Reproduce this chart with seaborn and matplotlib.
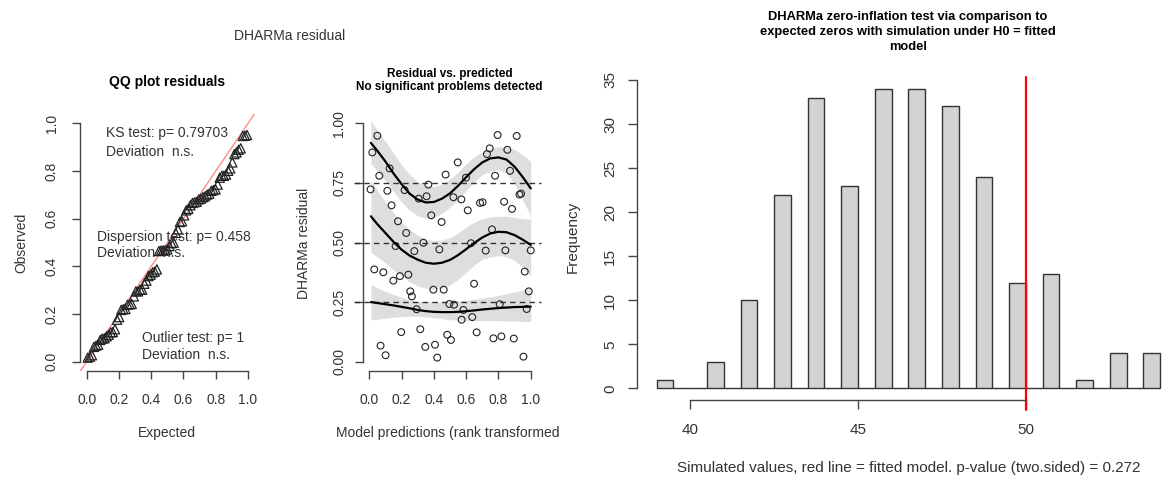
import numpy as np
import pandas as pd
import matplotlib
matplotlib.use("Agg")
import matplotlib.pyplot as plt
import seaborn as sns

sns.set_style("ticks")
plt.rcParams["font.family"] = ["Liberation Sans", "DejaVu Sans"]

W, H = 1168, 479

# scaled residuals vs rank transformed predictions
pred_rank = [0.008, 0.019, 0.050, 0.062, 0.031, 0.087, 0.070, 0.101, 0.112, 0.126,
             0.138, 0.149, 0.163, 0.178, 0.190, 0.198, 0.219, 0.229, 0.242, 0.254,
             0.264, 0.279, 0.293, 0.306, 0.316, 0.335, 0.347, 0.355, 0.366, 0.384,
             0.397, 0.407, 0.421, 0.434, 0.448, 0.461, 0.473, 0.483, 0.496, 0.506,
             0.521, 0.525, 0.548, 0.572, 0.570, 0.583, 0.599, 0.610, 0.630, 0.638,
             0.649, 0.665, 0.686, 0.702, 0.721, 0.729, 0.746, 0.760, 0.769, 0.779,
             0.795, 0.808, 0.818, 0.835, 0.843, 0.855, 0.872, 0.884, 0.895, 0.913,
             0.930, 0.940, 0.955, 0.963, 0.975, 0.988, 1.000]
resid = [0.723, 0.878, 0.948, 0.780, 0.387, 0.375, 0.067, 0.027, 0.717, 0.811,
         0.656, 0.340, 0.485, 0.589, 0.359, 0.124, 0.720, 0.540, 0.365, 0.295,
         0.274, 0.464, 0.220, 0.684, 0.136, 0.499, 0.062, 0.694, 0.743, 0.614,
         0.302, 0.071, 0.017, 0.471, 0.586, 0.302, 0.785, 0.113, 0.242, 0.091,
         0.690, 0.239, 0.836, 0.176, 0.681, 0.217, 0.772, 0.635, 0.497, 0.187,
         0.327, 0.123, 0.666, 0.669, 0.466, 0.871, 0.895, 0.555, 0.098, 0.780,
         0.951, 0.241, 0.106, 0.671, 0.467, 0.889, 0.801, 0.641, 0.097, 0.947,
         0.701, 0.705, 0.021, 0.378, 0.221, 0.295, 0.467]

# quantile regression smooths (0.25 / 0.5 / 0.75) with their bands
grid_x = [0.01, 0.05, 0.10, 0.15, 0.20, 0.25, 0.30, 0.35, 0.40, 0.45, 0.50,
          0.55, 0.60, 0.65, 0.70, 0.75, 0.80, 0.85, 0.90, 0.95, 1.00]
q75 = [0.918, 0.885, 0.840, 0.790, 0.745, 0.705, 0.680, 0.668, 0.670, 0.684, 0.706,
       0.738, 0.774, 0.808, 0.836, 0.853, 0.857, 0.848, 0.818, 0.775, 0.727]
q75_hi = [1.010, 0.970, 0.925, 0.875, 0.825, 0.785, 0.755, 0.740, 0.735, 0.745, 0.765,
          0.795, 0.830, 0.860, 0.880, 0.895, 0.902, 0.900, 0.890, 0.868, 0.840]
q75_lo = [0.830, 0.800, 0.760, 0.715, 0.670, 0.635, 0.612, 0.602, 0.605, 0.622, 0.648,
          0.680, 0.718, 0.755, 0.785, 0.800, 0.805, 0.790, 0.745, 0.680, 0.610]
q50 = [0.610, 0.577, 0.540, 0.503, 0.470, 0.445, 0.428, 0.415, 0.411, 0.415, 0.427,
       0.447, 0.472, 0.498, 0.521, 0.538, 0.545, 0.543, 0.531, 0.512, 0.490]
q50_hi = [0.760, 0.720, 0.670, 0.625, 0.585, 0.555, 0.530, 0.515, 0.508, 0.510, 0.520,
          0.540, 0.565, 0.585, 0.600, 0.607, 0.610, 0.610, 0.605, 0.600, 0.598]
q50_lo = [0.460, 0.440, 0.415, 0.385, 0.360, 0.335, 0.318, 0.308, 0.305, 0.310, 0.322,
          0.345, 0.375, 0.405, 0.430, 0.440, 0.445, 0.440, 0.425, 0.395, 0.360]
q25 = [0.250, 0.246, 0.241, 0.236, 0.230, 0.224, 0.217, 0.212, 0.209, 0.208, 0.208,
       0.209, 0.212, 0.215, 0.219, 0.222, 0.225, 0.227, 0.229, 0.230, 0.231]
q25_hi = [0.325, 0.310, 0.295, 0.282, 0.270, 0.260, 0.253, 0.250, 0.250, 0.250, 0.252,
          0.255, 0.258, 0.262, 0.267, 0.272, 0.278, 0.285, 0.292, 0.300, 0.308]
q25_lo = [0.175, 0.178, 0.182, 0.186, 0.189, 0.190, 0.190, 0.188, 0.184, 0.180, 0.176,
          0.174, 0.173, 0.172, 0.172, 0.172, 0.172, 0.171, 0.170, 0.169, 0.168]

# zero-inflation test: simulated number of zeros
sim_values = list(range(39, 55))
sim_counts = [1, 0, 3, 10, 22, 33, 23, 34, 34, 32, 24, 12, 13, 1, 4, 4]
observed_zeros = 50

TXT = "#333333"
AX = "#444444"


def box(x0, y0, x1, y1):
    return [x0 / W, 1 - y1 / H, (x1 - x0) / W, (y1 - y0) / H]


fig = plt.figure(figsize=(W / 100, H / 100), dpi=100)


def ftext(x, y, s, **kw):
    kw.setdefault("ha", "center")
    kw.setdefault("va", "center")
    kw.setdefault("color", TXT)
    fig.text(x / W, 1 - y / H, s, **kw)


def r_axes(ax, xb, yb, size, xpad, ypad, tlen):
    sns.despine(ax=ax)
    ax.spines["left"].set_bounds(*yb)
    ax.spines["bottom"].set_bounds(*xb)
    for s in ("left", "bottom"):
        ax.spines[s].set_color(AX)
        ax.spines[s].set_linewidth(1)
    ax.tick_params(direction="out", length=tlen, width=1, color=AX,
                   labelcolor=TXT, labelsize=size)
    ax.tick_params(axis="x", pad=xpad)
    ax.tick_params(axis="y", pad=ypad, labelrotation=90)
    for lab in ax.get_yticklabels():
        lab.set_va("center")
    ax.set_xlabel("")
    ax.set_ylabel("")


# ---- QQ plot ----
ax1 = fig.add_axes(box(80.2, 113.8, 254.5, 371.2))
observed = np.sort(resid)
n = len(observed)
expected = (np.arange(1, n + 1) - 0.5) / n
sns.scatterplot(x=expected, y=observed, marker="^", s=44, facecolor="none",
                edgecolor="#222222", linewidth=0.9, ax=ax1, zorder=3)
ax1.axline((0, 0), (1, 1), color="red", alpha=0.45, lw=1)
ax1.set_xlim(-0.04, 1.04)
ax1.set_ylim(-0.04, 1.04)
ax1.set_xticks(np.arange(0, 1.01, 0.2))
ax1.set_yticks(np.arange(0, 1.01, 0.2))
ax1.set_xticklabels(["0.0", "0.2", "0.4", "0.6", "0.8", "1.0"])
ax1.set_yticklabels(["0.0", "0.2", "0.4", "0.6", "0.8", "1.0"])
r_axes(ax1, (0, 1), (0, 1), 10, 9.5, 9.4, 6)

tk = dict(transform=ax1.transAxes, fontsize=10, color=TXT, ha="left", va="center")
ax1.text(0.148, 0.925, "KS test: p= 0.79703", **tk)
ax1.text(0.148, 0.852, "Deviation  n.s.", **tk)
ax1.text(0.098, 0.5226, "Dispersion test: p= 0.458", **tk)
ax1.text(0.098, 0.458, "Deviation  n.s.", **tk)
ax1.text(0.353, 0.128, "Outlier test: p= 1", **tk)
ax1.text(0.353, 0.063, "Deviation  n.s.", **tk)

ftext(167, 81.7, "QQ plot residuals", fontsize=10, fontweight="bold", color="black")
ftext(167, 433, "Expected", fontsize=10)
ftext(21, 243, "Observed", fontsize=10, rotation=90)

# ---- residual vs predicted ----
ax2 = fig.add_axes(box(362.8, 113.8, 537.2, 371.2))
for lo, hi in ((q75_lo, q75_hi), (q50_lo, q50_hi), (q25_lo, q25_hi)):
    ax2.fill_between(grid_x, lo, hi, color="#dedede", lw=0, zorder=1)
for yv in (0.25, 0.5, 0.75):
    ax2.axhline(yv, xmin=-0.05, xmax=1.02, color="#333333", lw=1,
                ls=(0, (4, 3)), clip_on=False, zorder=2)
sns.scatterplot(x=pred_rank, y=resid, marker="o", s=24, facecolor="none",
                edgecolor="#222222", linewidth=0.8, ax=ax2, zorder=3)
for q in (q75, q50, q25):
    sns.lineplot(x=grid_x, y=q, color="black", lw=1.6, sort=False,
                 estimator=None, ax=ax2, zorder=4)
ax2.set_xlim(-0.04, 1.04)
ax2.set_ylim(-0.04, 1.04)
ax2.set_xticks(np.arange(0, 1.01, 0.2))
ax2.set_xticklabels(["0.0", "0.2", "0.4", "0.6", "0.8", "1.0"])
ax2.set_yticks([0, 0.25, 0.5, 0.75, 1.0])
ax2.set_yticklabels(["0.00", "0.25", "0.50", "0.75", "1.00"])
r_axes(ax2, (0, 1), (0, 1), 10, 9.5, 5.8, 6)

ftext(449.5, 74, "Residual vs. predicted", fontsize=8.5, fontweight="bold", color="black")
ftext(449.5, 87.3, "No significant problems detected", fontsize=8.5,
      fontweight="bold", color="black")
ftext(304, 243, "DHARMa residual", fontsize=10, rotation=90)
ftext(336, 432.7, "Model predictions (rank transformed", fontsize=10, ha="left")

ftext(290, 36, "DHARMa residual", fontsize=10)

# ---- zero-inflation histogram ----
ax3 = fig.add_axes(box(636.5, 76.8, 1168, 400.3))
breaks = np.arange(39, 54.01, 0.5)
sims = np.repeat(sim_values, sim_counts)
# R hist: right-closed bins, lowest included
binned = pd.Series(pd.cut(sims, breaks, right=True, include_lowest=True))
bin_df = pd.DataFrame({"left": breaks[:-1] + 0.25,
                       "count": binned.value_counts(sort=False).sort_index().values})
sns.histplot(data=bin_df, x="left", weights="count", binwidth=0.5,
             binrange=(sim_values[0], sim_values[-1]), color="#d3d3d3",
             edgecolor="#333333", linewidth=1, alpha=1, ax=ax3)
ax3.axvline(observed_zeros, ymin=-0.03, color="red", lw=1.6, clip_on=False)
ax3.set_xlim(38.4, 38.4 + (1168 - 636.5) / 33.57)
ax3.set_ylim(-1.36, 35.36)
ax3.set_xticks([40, 45, 50])
ax3.set_yticks(range(0, 36, 5))
r_axes(ax3, (40, 50), (0, 35), 11, 9.5, 7, 6.8)

ftext(908, 16.7, "DHARMa zero-inflation test via comparison to", fontsize=9.3,
      fontweight="bold", color="black")
ftext(908, 32.3, "expected zeros with simulation under H0 = fitted", fontsize=9.3,
      fontweight="bold", color="black")
ftext(908, 46.7, "model", fontsize=9.3, fontweight="bold", color="black")
ftext(573, 237, "Frequency", fontsize=11, rotation=90)
ftext(908.6, 468, "Simulated values, red line = fitted model. p-value (two.sided) = 0.272",
      fontsize=11)

fig.savefig("out.png", dpi=100)
